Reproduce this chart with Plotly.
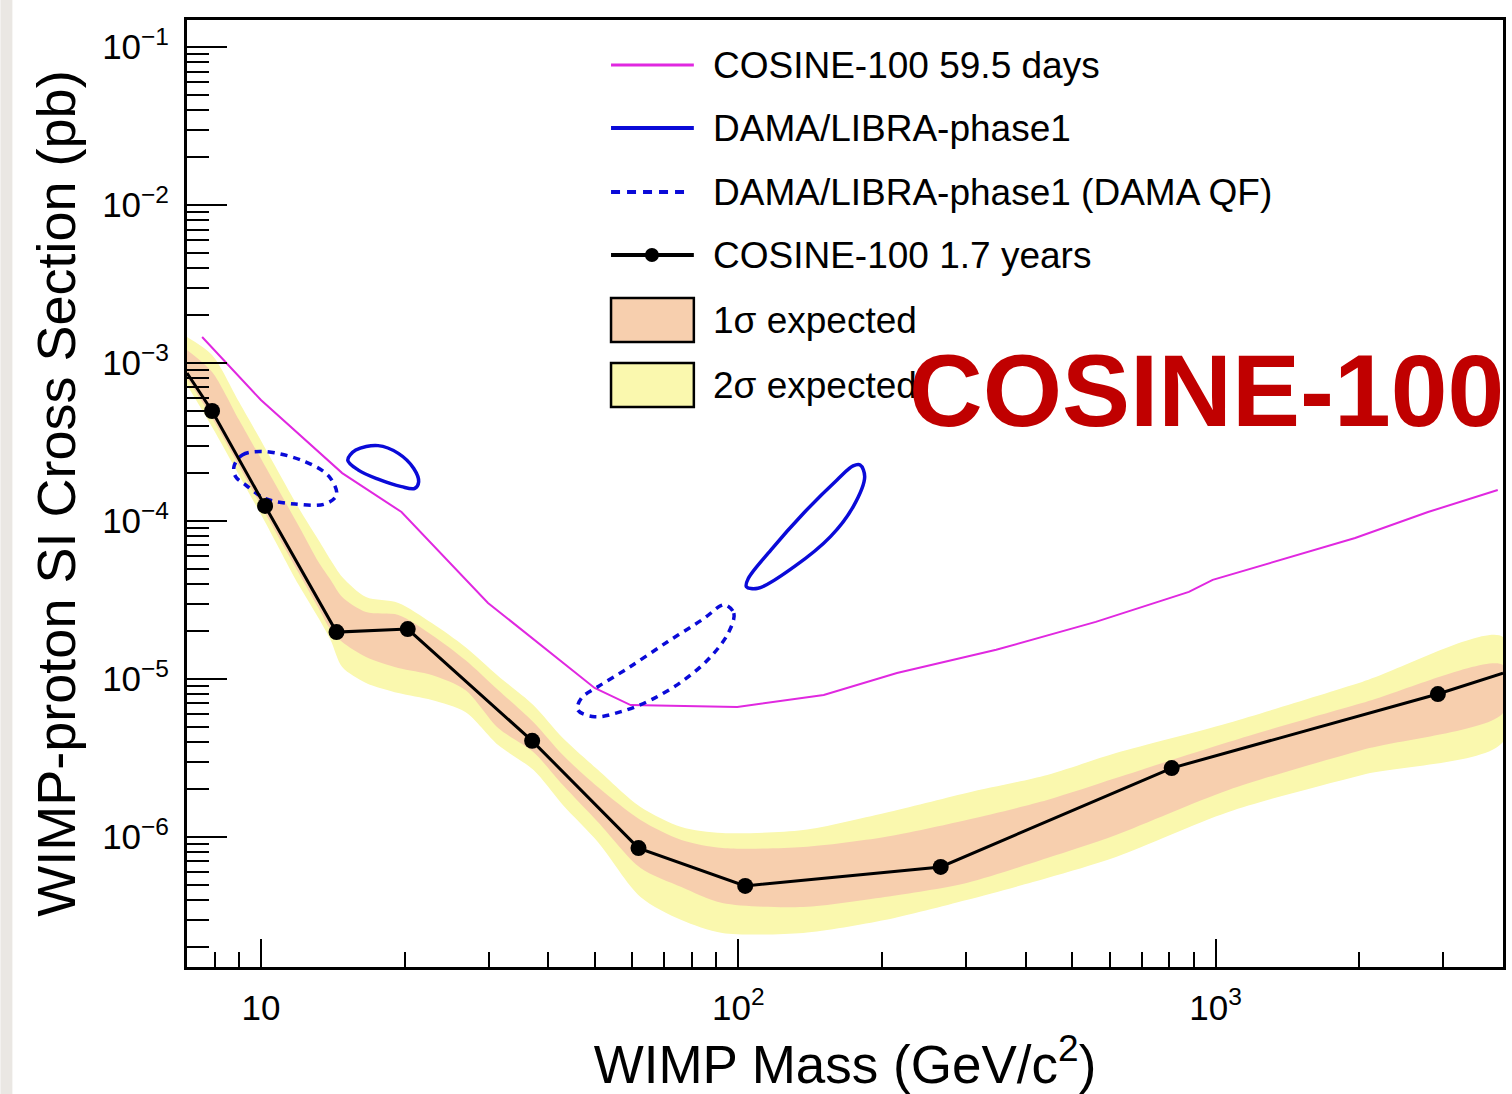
import plotly.graph_objects as go
import math

# ---------------- data ----------------
# COSINE-100 59.5 days limit (magenta)
mag_mass = [7.53, 10.0, 14.8, 19.7, 29.9, 50.0, 59.5, 99.5, 151, 215, 347, 561, 879, 986, 1960, 2786, 3900]
mag_xsec = [1.46e-3, 5.83e-4, 2.01e-4, 1.14e-4, 3.03e-5, 8.77e-6, 6.84e-6, 6.65e-6, 7.93e-6, 1.09e-5,
            1.53e-5, 2.3e-5, 3.56e-5, 4.24e-5, 7.8e-5, 1.14e-4, 1.57e-4]

# DAMA/LIBRA-phase1 contours (solid): low-mass island and high-mass island
dama_lo_mass = [15.2, 15.8, 17.6, 19.4, 20.9, 21.4, 21.0, 19.7, 17.6, 16.0, 15.2]
dama_lo_xsec = [2.43e-4, 2.81e-4, 3.0e-4, 2.68e-4, 2.15e-4, 1.77e-4, 1.61e-4, 1.65e-4, 1.84e-4, 2.1e-4, 2.43e-4]
dama_hi_mass = [180, 184, 174, 156, 131, 110, 104, 105, 117, 137, 161, 174, 180]
dama_hi_xsec = [2.26e-4, 1.91e-4, 1.23e-4, 7.96e-5, 5.14e-5, 3.75e-5, 3.84e-5, 4.34e-5, 6.55e-5, 1.12e-4,
                1.82e-4, 2.23e-4, 2.26e-4]

# DAMA/LIBRA-phase1 (DAMA QF) contours (dotted)
qf_lo_mass = [8.78, 9.14, 10.2, 12.4, 13.9, 14.4, 13.6, 11.8, 10.2, 9.29, 8.85, 8.78]
qf_lo_xsec = [2.21e-4, 2.62e-4, 2.75e-4, 2.37e-4, 1.91e-4, 1.46e-4, 1.28e-4, 1.28e-4, 1.39e-4, 1.69e-4,
              1.91e-4, 2.21e-4]
qf_hi_mass = [94.1, 97.9, 95.6, 87.5, 77.0, 65.6, 56.8, 50.0, 46.1, 46.9, 50.8, 58.7, 71.1, 84.8, 91.9, 94.1]
qf_hi_xsec = [2.94e-5, 2.61e-5, 1.99e-5, 1.38e-5, 9.86e-6, 7.37e-6, 6.21e-6, 5.77e-6, 6.37e-6, 7.55e-6,
              8.93e-6, 1.17e-5, 1.72e-5, 2.42e-5, 2.91e-5, 2.94e-5]

# COSINE-100 1.7 years limit (black, with markers); first and last values are where the line meets the frame
cos_mass = [7.0, 7.9, 10.2, 14.4, 20.3, 37.0, 61.8, 103.4, 265.5, 809, 2922, 4000]
cos_xsec = [8.64e-4, 4.97e-4, 1.245e-4, 1.98e-5, 2.07e-5, 4.06e-6, 8.5e-7, 4.9e-7, 6.46e-7, 2.73e-6,
            8.03e-6, 1.09e-5]
cos_has_marker = [False, True, True, True, True, True, True, True, True, True, True, False]

# expected sensitivity bands
band_mass = [7.0, 7.9, 9.0, 10.2, 12.0, 13.2, 14.0, 14.8, 16.6, 19.4, 22.8, 26.8, 31.4, 37.2, 42.9, 50.8,
             62.4, 76.0, 92.6, 136.7, 202.7, 300.8, 443.9, 618.4, 1064, 2027, 4000]
two_sig_hi = [1.461e-3, 1.124e-3, 5.66e-4, 2.90e-4, 1.209e-4, 7.58e-5, 5.66e-5, 4.42e-5, 3.30e-5, 3.03e-5,
              2.26e-5, 1.594e-5, 1.045e-5, 6.85e-6, 4.23e-6, 2.66e-6, 1.548e-6, 1.157e-6, 1.06e-6, 1.107e-6,
              1.419e-6, 1.90e-6, 2.47e-6, 3.40e-6, 5.27e-6, 9.57e-6, 1.844e-5]
one_sig_hi = [1.209e-3, 8.77e-4, 4.36e-4, 2.23e-4, 9.30e-5, 5.50e-5, 4.23e-5, 3.30e-5, 2.65e-5, 2.54e-5,
              1.90e-5, 1.319e-5, 8.52e-6, 5.34e-6, 3.30e-6, 2.07e-6, 1.281e-6, 9.57e-7, 8.52e-7, 8.64e-7,
              1.0e-6, 1.281e-6, 1.715e-6, 2.36e-6, 3.99e-6, 7.05e-6, 1.227e-5]
one_sig_lo = [8.04e-4, 4.49e-4, 2.23e-4, 1.124e-4, 4.69e-5, 2.81e-5, 2.04e-5, 1.715e-5, 1.378e-5, 1.174e-5,
              1.06e-5, 8.52e-6, 4.90e-6, 3.45e-6, 2.13e-6, 1.244e-6, 6.37e-7, 4.83e-7, 3.82e-7, 3.61e-7,
              4.17e-7, 5.12e-7, 7.36e-7, 1.03e-6, 1.983e-6, 3.55e-6, 6.09e-6]
two_sig_lo = [7.26e-4, 3.94e-4, 1.95e-4, 9.86e-5, 3.93e-5, 2.43e-5, 1.76e-5, 1.19e-5, 9.44e-6, 8.15e-6,
              7.36e-6, 6.18e-6, 3.82e-6, 2.66e-6, 1.594e-6, 9.30e-7, 4.17e-7, 2.98e-7, 2.47e-7, 2.47e-7,
              2.98e-7, 3.99e-7, 5.50e-7, 7.47e-7, 1.44e-6, 2.47e-6, 3.99e-6]

# axes
x_range = [7.0, 4000.0]
y_range = [1.503e-7, 0.1483]
x_tick_vals = [10, 100, 1000]
x_tick_text = ["10", "10<sup>2</sup>", "10<sup>3</sup>"]
y_tick_vals = [1e-6, 1e-5, 1e-4, 1e-3, 1e-2, 1e-1]
y_tick_text = ["10<sup>\u22126</sup>", "10<sup>\u22125</sup>", "10<sup>\u22124</sup>",
               "10<sup>\u22123</sup>", "10<sup>\u22122</sup>", "10<sup>\u22121</sup>"]

legend_labels = ["COSINE-100 59.5 days", "DAMA/LIBRA-phase1", "DAMA/LIBRA-phase1 (DAMA QF)",
                 "COSINE-100 1.7 years", "1\u03c3 expected", "2\u03c3 expected"]

# ---------------- styling ----------------
FONT = "Liberation Sans, Arial, Helvetica, sans-serif"
MAGENTA = "#E028E0"
BLUE = "#0A0AD8"
ORANGE = "#F7CFAE"
YELLOW = "#FAF8AE"
RED = "#C00000"

W, H = 1512, 1094
ML, MR, MT, MB = 187, 6, 20, 127
PW, PH = W - ML - MR, H - MT - MB


def pxx(xp):
    return (xp - ML) / PW


def pxy(yp):
    return (H - MB - yp) / PH


fig = go.Figure()

# 2 sigma band
fig.add_trace(go.Scatter(
    x=band_mass + band_mass[::-1], y=two_sig_hi + two_sig_lo[::-1],
    fill="toself", fillcolor=YELLOW, mode="lines",
    line=dict(width=0, shape="spline", smoothing=0.8),
    name="2\u03c3 expected", showlegend=False, hoverinfo="skip"))
# 1 sigma band
fig.add_trace(go.Scatter(
    x=band_mass + band_mass[::-1], y=one_sig_hi + one_sig_lo[::-1],
    fill="toself", fillcolor=ORANGE, mode="lines",
    line=dict(width=0, shape="spline", smoothing=0.8),
    name="1\u03c3 expected", showlegend=False, hoverinfo="skip"))

# COSINE-100 59.5 days
fig.add_trace(go.Scatter(
    x=mag_mass, y=mag_xsec, mode="lines",
    line=dict(color=MAGENTA, width=2),
    name=legend_labels[0], showlegend=False))

# DAMA/LIBRA solid contours
fig.add_trace(go.Scatter(
    x=dama_lo_mass + [None] + dama_hi_mass, y=dama_lo_xsec + [None] + dama_hi_xsec,
    mode="lines", line=dict(color=BLUE, width=3.5, shape="spline", smoothing=1.0),
    name=legend_labels[1], showlegend=False))

# DAMA/LIBRA QF dotted contours
fig.add_trace(go.Scatter(
    x=qf_lo_mass + [None] + qf_hi_mass, y=qf_lo_xsec + [None] + qf_hi_xsec,
    mode="lines", line=dict(color=BLUE, width=3.5, dash="7px,6px", shape="spline", smoothing=1.0),
    name=legend_labels[2], showlegend=False))

# COSINE-100 1.7 years
fig.add_trace(go.Scatter(
    x=cos_mass, y=cos_xsec, mode="lines+markers",
    line=dict(color="black", width=3),
    marker=dict(color="black", size=[16 if m else 0 for m in cos_has_marker],
                line=dict(width=0), opacity=1),
    name=legend_labels[3], showlegend=False))

# ---------------- hand-drawn legend (layout only) ----------------
shapes = []
annotations = []
row_y = [65, 128, 192, 255, 320, 385]
LX0, LX1, TX = 612, 695, 712

shapes.append(dict(type="line", xref="paper", yref="paper", x0=pxx(LX0), x1=pxx(LX1),
                   y0=pxy(row_y[0]), y1=pxy(row_y[0]), line=dict(color=MAGENTA, width=3)))
shapes.append(dict(type="line", xref="paper", yref="paper", x0=pxx(LX0), x1=pxx(LX1),
                   y0=pxy(row_y[1]), y1=pxy(row_y[1]), line=dict(color=BLUE, width=4)))
shapes.append(dict(type="line", xref="paper", yref="paper", x0=pxx(LX0), x1=pxx(LX1 - 5),
                   y0=pxy(row_y[2]), y1=pxy(row_y[2]), line=dict(color=BLUE, width=4, dash="9px,7px")))
shapes.append(dict(type="line", xref="paper", yref="paper", x0=pxx(LX0), x1=pxx(LX1),
                   y0=pxy(row_y[3]), y1=pxy(row_y[3]), line=dict(color="black", width=4)))
shapes.append(dict(type="circle", xref="paper", yref="paper", x0=pxx(646), x1=pxx(660),
                   y0=pxy(row_y[3] + 7), y1=pxy(row_y[3] - 7), fillcolor="black", line=dict(width=0)))
for yc, col in ((row_y[4], ORANGE), (row_y[5], YELLOW)):
    shapes.append(dict(type="rect", xref="paper", yref="paper", x0=pxx(LX0), x1=pxx(LX1),
                       y0=pxy(yc + 22), y1=pxy(yc - 22), fillcolor=col,
                       line=dict(color="black", width=2.5)))
for yc, lab in zip(row_y, legend_labels):
    annotations.append(dict(x=pxx(TX), y=pxy(yc), xref="paper", yref="paper", text=lab,
                            showarrow=False, xanchor="left", yanchor="middle",
                            font=dict(family=FONT, size=37, color="black")))

# big red label
annotations.append(dict(x=pxx(1509), y=pxy(391), xref="paper", yref="paper",
                        text="<b>COSINE-100</b>", showarrow=False, xanchor="right", yanchor="middle",
                        font=dict(family=FONT, size=102, color=RED)))

# paper texture strip at the left image edge
shapes.append(dict(type="rect", xref="paper", yref="paper", x0=pxx(0), x1=pxx(12),
                   y0=pxy(H), y1=pxy(0), fillcolor="#EAE7E3", line=dict(width=0), layer="below"))

minor_x = [8, 9] + [k * 10 ** n for n in (1, 2) for k in range(2, 10)] + [2000, 3000]
minor_y = [k * 10.0 ** n for n in range(-7, -1) for k in range(2, 10)
           if y_range[0] < k * 10.0 ** n < y_range[1]]

fig.update_layout(
    width=W, height=H,
    margin=dict(l=ML, r=MR, t=MT, b=MB, pad=0),
    paper_bgcolor="white", plot_bgcolor="white",
    font=dict(family=FONT, color="black"),
    showlegend=False,
    shapes=shapes, annotations=annotations,
    xaxis=dict(
        type="log", range=[math.log10(x_range[0]), math.log10(x_range[1])],
        showgrid=False, zeroline=False,
        showline=True, linecolor="black", linewidth=3, mirror=True,
        ticks="inside", ticklen=28, tickwidth=2, tickcolor="black",
        tickmode="array", tickvals=x_tick_vals, ticktext=x_tick_text,
        tickfont=dict(family=FONT, size=35, color="black"),
        ticklabelstandoff=8,
        minor=dict(tickmode="array", tickvals=minor_x, ticks="inside", ticklen=15,
                   tickwidth=2, tickcolor="black", showgrid=False),
        title=dict(text="WIMP Mass (GeV/c<sup>2</sup>)", font=dict(family=FONT, size=53, color="black"),
                   standoff=0),
    ),
    yaxis=dict(
        type="log", range=[math.log10(y_range[0]), math.log10(y_range[1])],
        showgrid=False, zeroline=False,
        showline=True, linecolor="black", linewidth=3, mirror=True,
        ticks="inside", ticklen=40, tickwidth=2, tickcolor="black",
        tickmode="array", tickvals=y_tick_vals, ticktext=y_tick_text,
        tickfont=dict(family=FONT, size=35, color="black"),
        ticklabelstandoff=8,
        minor=dict(tickmode="array", tickvals=minor_y, ticks="inside", ticklen=22,
                   tickwidth=2, tickcolor="black", showgrid=False),
        title=dict(text="WIMP-proton SI Cross Section (pb)", font=dict(family=FONT, size=54, color="black"),
                   standoff=10),
    ),
)

fig.write_html("out.html", config={"displayModeBar": False},
               post_script="document.body.style.margin='0';document.body.style.overflow='hidden';")
